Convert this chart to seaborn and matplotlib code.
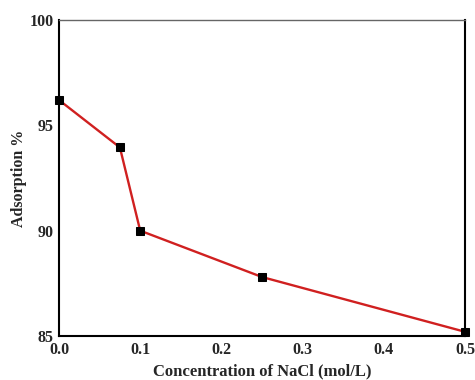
import matplotlib
matplotlib.use("Agg")
import matplotlib.pyplot as plt
import seaborn as sns
import pandas as pd

# NaCl concentration (mol/L) and adsorption percentage
concentration = [0.0, 0.075, 0.1, 0.25, 0.5]
adsorption = [96.2, 93.95, 90.0, 87.8, 85.2]
x_ticks = [0.0, 0.1, 0.2, 0.3, 0.4, 0.5]
y_ticks = [85, 90, 95, 100]

df = pd.DataFrame({"conc": concentration, "ads": adsorption})

sns.set_style("white")
plt.rcParams["font.family"] = ["Liberation Serif", "DejaVu Serif"]

fig = plt.figure(figsize=(4.75, 3.8), dpi=100)
ax = fig.add_axes([59 / 475, 44 / 380, 406 / 475, 316 / 380])

sns.lineplot(data=df, x="conc", y="ads", ax=ax, color="#d02020", linewidth=1.7,
             marker="s", markersize=6, markerfacecolor="black",
             markeredgecolor="black", clip_on=False, zorder=3)

ax.set_xlim(0, 0.5)
ax.set_ylim(85, 100)
ax.set_xticks(x_ticks)
ax.set_xticklabels([f"{t:.1f}" for t in x_ticks])
ax.set_yticks(y_ticks)
ax.set_yticklabels([str(t) for t in y_ticks])
ax.tick_params(length=0, labelsize=11.5, pad=4)
for lbl in ax.get_xticklabels() + ax.get_yticklabels():
    lbl.set_fontweight("bold")

ax.set_xlabel("Concentration of NaCl (mol/L)", fontsize=12, fontweight="bold", labelpad=4)
ax.set_ylabel("Adsorption %", fontsize=11.5, fontweight="bold", labelpad=2)

for side in ["left", "bottom", "right"]:
    ax.spines[side].set_color("black")
    ax.spines[side].set_linewidth(1.5)
ax.spines["top"].set_color("#666666")
ax.spines["top"].set_linewidth(1.0)

fig.savefig("out.png", dpi=100, facecolor="white")
